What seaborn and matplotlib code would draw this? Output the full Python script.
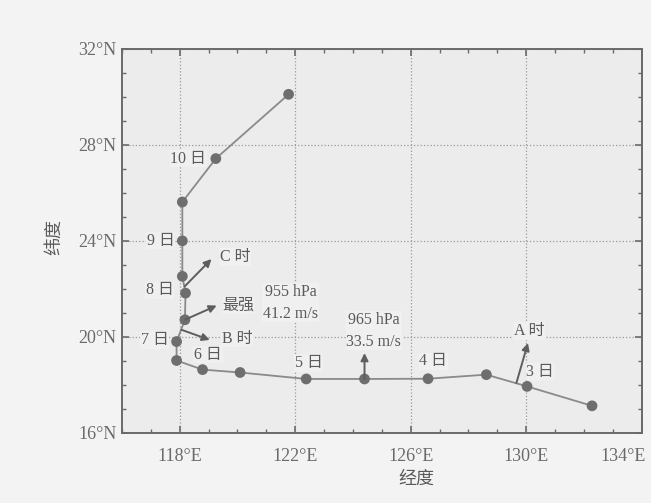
import numpy as np
import pandas as pd
import seaborn as sns
import matplotlib as mpl
import matplotlib.pyplot as plt
import matplotlib.transforms as mtrans
from matplotlib.ticker import MultipleLocator, FuncFormatter
mpl.use('Agg')

# typhoon track (lon, lat), from the south-east end northwards
track_lon = [132.28, 130.03, 128.62, 126.60, 124.40, 122.38, 120.09, 118.79,
             117.89, 117.89, 118.18, 118.20, 118.09, 118.09, 118.09, 119.25, 121.77]
track_lat = [17.12, 17.93, 18.42, 18.25, 18.24, 18.24, 18.51, 18.63,
             19.01, 19.80, 20.71, 21.82, 22.52, 24.00, 25.62, 27.43, 30.11]

# day labels
day_text = ['3 日', '4 日', '5 日', '6 日', '7 日', '8 日', '9 日', '10 日']
day_lon = [130.49, 126.78, 122.46, 118.98, 117.62, 117.79, 117.82, 118.92]
day_lat = [18.55, 18.97, 18.90, 19.25, 19.87, 21.93, 24.00, 27.43]
day_ha = ['center', 'center', 'center', 'center', 'right', 'right', 'right', 'right']

# arrows: start (lon, lat) -> end (lon, lat)
arrow_x0 = [129.66, 124.40, 118.18, 118.06, 118.17]
arrow_y0 = [18.07, 18.24, 20.71, 20.29, 22.10]
arrow_x1 = [130.06, 124.40, 119.28, 119.04, 119.10]
arrow_y1 = [19.74, 19.32, 21.30, 19.87, 23.24]

# arrow / info texts
note_text = ['A 时', '965 hPa\n33.5 m/s', '最强', 'B 时', 'C 时', '955 hPa\n41.2 m/s']
note_lon = [130.10, 124.72, 119.49, 119.45, 119.39, 121.84]
note_lat = [20.24, 20.25, 21.29, 19.92, 23.33, 21.42]
note_ha = ['center', 'center', 'left', 'left', 'left', 'center']

x_ticks = [118, 122, 126, 130, 134]
y_ticks = [16, 20, 24, 28, 32]

df = pd.DataFrame({'lon': track_lon, 'lat': track_lat})

sns.set_style('ticks')
fam = ['Liberation Serif', 'Noto Sans CJK SC', 'DejaVu Sans']
plt.rcParams['font.family'] = fam
tc = '#5a5a5a'
plt.rcParams['text.color'] = tc
plt.rcParams['axes.labelcolor'] = tc
plt.rcParams['xtick.color'] = '#6a6a6a'
plt.rcParams['ytick.color'] = '#6a6a6a'

fig = plt.figure(figsize=(6.51, 5.03), dpi=100, facecolor='#f3f3f3')
ax = fig.add_axes([0.1874, 0.1398, 0.7983, 0.7628])
ax.set_facecolor('#ececec')

sns.lineplot(data=df, x='lon', y='lat', sort=False, estimator=None, color='#8a8a8a',
             lw=1.3, ax=ax, zorder=3)
sns.scatterplot(data=df, x='lon', y='lat', color='#6e6e6e', s=60, edgecolor='none', ax=ax, zorder=4)

for x0, y0, x1, y1 in zip(arrow_x0, arrow_y0, arrow_x1, arrow_y1):
    ax.annotate('', xy=(x1, y1), xytext=(x0, y0),
                arrowprops=dict(arrowstyle='-|>', color='#5e5e5e', lw=1.4, mutation_scale=11,
                                shrinkA=0, shrinkB=0), zorder=5)

for t, x, y, ha in zip(day_text, day_lon, day_lat, day_ha):
    ax.text(x, y, t, ha=ha, va='center', fontsize=11.5, color=tc,
            bbox=dict(fc='#f0f0f0', ec='none', pad=0.5), zorder=6)

for t, x, y, ha in zip(note_text, note_lon, note_lat, note_ha):
    ax.text(x, y, t, ha=ha, va='center', fontsize=11.5, color=tc, linespacing=1.5,
            bbox=dict(fc='#f0f0f0', ec='none', pad=0.5), zorder=6)

ax.set_xlim(116, 134)
ax.set_ylim(16, 32)
ax.set_xticks(x_ticks)
ax.set_yticks(y_ticks)
ax.xaxis.set_minor_locator(MultipleLocator(1))
ax.yaxis.set_minor_locator(MultipleLocator(1))
ax.xaxis.set_major_formatter(FuncFormatter(lambda v, p: '%d°E' % v))
ax.yaxis.set_major_formatter(FuncFormatter(lambda v, p: '%d°N' % v))
ax.tick_params(which='major', direction='in', length=5, width=1.2, labelsize=13,
               top=True, right=True)
ax.tick_params(axis='x', which='major', pad=11)
ax.tick_params(axis='y', which='major', pad=4)
ax.tick_params(which='minor', direction='in', length=3, width=1.0, top=True, right=True)
ax.grid(True, which='major', ls=':', color='#9a9a9a', lw=0.9)
for s in ax.spines.values():
    s.set_color('#6a6a6a')
    s.set_linewidth(1.4)

# last x label sits inside the figure, right-aligned
last = ax.get_xticklabels()[-1]
last.set_horizontalalignment('right')
last.set_transform(last.get_transform() + mtrans.ScaledTranslation(4 / 100, 0, fig.dpi_scale_trans))

ax.set_xlabel('经度', fontsize=13)
ax.set_ylabel('纬度', fontsize=13)
ax.xaxis.set_label_coords(0.566, -0.10)
ax.yaxis.set_label_coords(-0.113, 0.51)

fig.savefig('out.png', dpi=100, facecolor=fig.get_facecolor())
